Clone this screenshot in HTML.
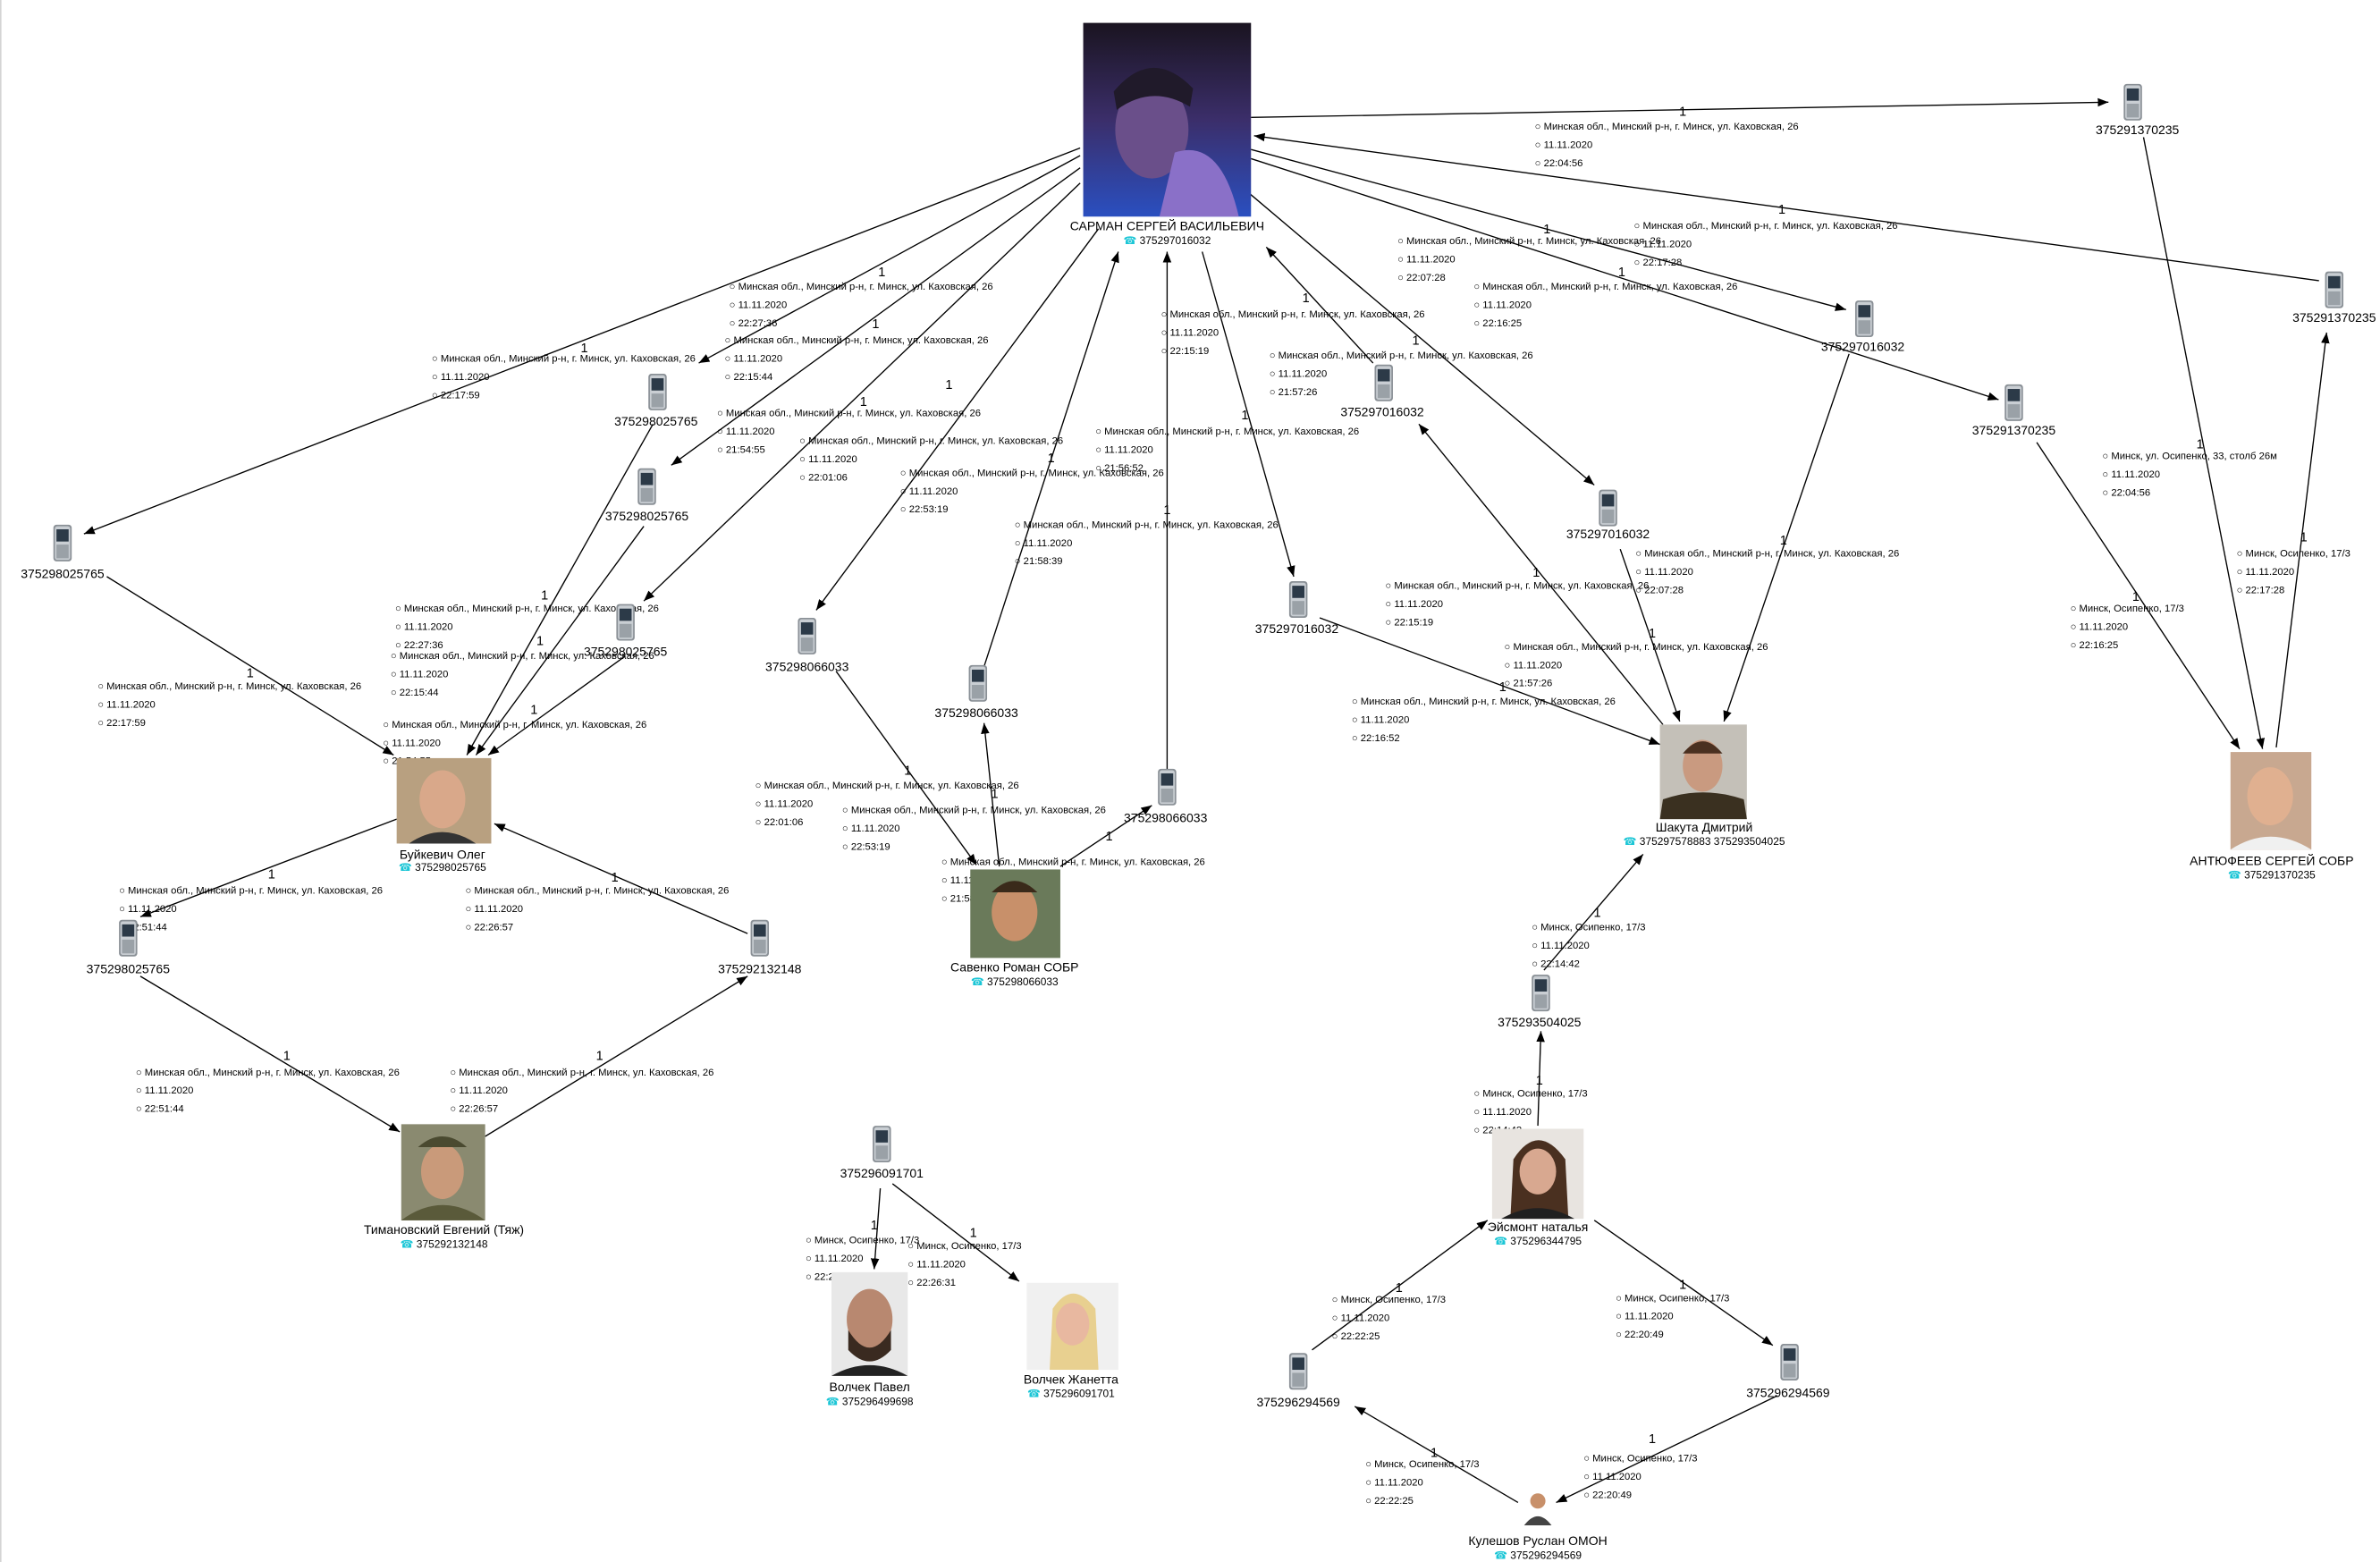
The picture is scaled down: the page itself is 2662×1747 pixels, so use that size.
<!DOCTYPE html>
<html><head><meta charset="utf-8"><style>
html,body{margin:0;padding:0;background:#fff}
svg{display:block}
text{font-family:"Liberation Sans","DejaVu Sans",sans-serif;fill:#000}
.i{font-size:6.6px}
.n{font-size:8.2px;text-anchor:middle}
.p{font-size:7px;text-anchor:middle}
.o{font-size:8.5px;text-anchor:middle}
line{stroke:#000;stroke-width:0.8}
</style></head><body>
<svg width="2662" height="1747" viewBox="0 0 1560 1024" preserveAspectRatio="none" xmlns="http://www.w3.org/2000/svg">
<defs>
<marker id="a" viewBox="0 0 10 10" refX="10" refY="5" markerWidth="7" markerHeight="7" orient="auto" markerUnits="userSpaceOnUse"><path d="M0,1 L10,5 L0,9 z" fill="#000"/></marker>
<g id="ph"><rect x="-6" y="0" width="12" height="24" rx="2" fill="#8a9096"/><rect x="-5" y="1" width="10" height="22" rx="1.5" fill="#c9ced3"/><rect x="-4" y="3" width="8" height="8" fill="#2c3a48"/><rect x="-4" y="13" width="8" height="9" fill="#9aa1a7"/></g>
<linearGradient id="sg" x1="0" y1="0" x2="0" y2="1"><stop offset="0" stop-color="#1a1420"/><stop offset="0.5" stop-color="#3b2e6a"/><stop offset="1" stop-color="#2a4fc0"/></linearGradient>
</defs>
<line x1="0.5" y1="0" x2="0.5" y2="1024" stroke="#ccc" style="stroke:#ccc"/>

<!-- edges -->
<g marker-end="url(#a)">
<line x1="820" y1="77" x2="1382" y2="67"/>
<line x1="1520" y1="184" x2="822" y2="89"/>
<line x1="820" y1="98" x2="1210" y2="203"/>
<line x1="820" y1="104" x2="1310" y2="262"/>
<line x1="900" y1="238" x2="830" y2="162"/>
<line x1="818" y1="126" x2="1045" y2="318"/>
<line x1="788" y1="165" x2="848" y2="378"/>
<line x1="765" y1="505" x2="765" y2="165"/>
<line x1="645" y1="437" x2="733" y2="165"/>
<line x1="720" y1="150" x2="535" y2="400"/>
<line x1="708" y1="120" x2="422" y2="394"/>
<line x1="708" y1="110" x2="440" y2="305"/>
<line x1="708" y1="102" x2="458" y2="238"/>
<line x1="708" y1="97" x2="55" y2="350"/>
<line x1="70" y1="378" x2="258" y2="495"/>
<line x1="428" y1="278" x2="306" y2="495"/>
<line x1="422" y1="345" x2="312" y2="495"/>
<line x1="410" y1="430" x2="320" y2="495"/>
<line x1="260" y1="537" x2="92" y2="601"/>
<line x1="490" y1="612" x2="324" y2="540"/>
<line x1="92" y1="640" x2="262" y2="742"/>
<line x1="318" y1="745" x2="490" y2="640"/>
<line x1="548" y1="440" x2="640" y2="567"/>
<line x1="655" y1="568" x2="645" y2="474"/>
<line x1="695" y1="568" x2="755" y2="528"/>
<line x1="865" y1="405" x2="1088" y2="488"/>
<line x1="1090" y1="475" x2="930" y2="278"/>
<line x1="1062" y1="360" x2="1101" y2="473"/>
<line x1="1212" y1="232" x2="1130" y2="473"/>
<line x1="1405" y1="90" x2="1483" y2="491"/>
<line x1="1492" y1="490" x2="1525" y2="218"/>
<line x1="1335" y1="290" x2="1468" y2="491"/>
<line x1="1012" y1="636" x2="1077" y2="560"/>
<line x1="1008" y1="738" x2="1010" y2="676"/>
<line x1="860" y1="885" x2="975" y2="800"/>
<line x1="1045" y1="800" x2="1162" y2="882"/>
<line x1="995" y1="985" x2="888" y2="922"/>
<line x1="1165" y1="915" x2="1020" y2="985"/>
<line x1="585" y1="776" x2="668" y2="840"/>
<line x1="577" y1="779" x2="573" y2="832"/>
</g>

<!-- edge "1" labels -->
<g class="o">
<text x="1103" y="76">1</text><text x="1168" y="140">1</text><text x="1014" y="153">1</text><text x="1063" y="181">1</text>
<text x="856" y="198">1</text><text x="928" y="226">1</text><text x="816" y="275">1</text><text x="765" y="337">1</text>
<text x="689" y="303">1</text><text x="622" y="255">1</text><text x="566" y="266">1</text><text x="574" y="215">1</text>
<text x="578" y="181">1</text><text x="383" y="231">1</text><text x="164" y="444">1</text><text x="357" y="393">1</text>
<text x="354" y="423">1</text><text x="350" y="468">1</text><text x="178" y="576">1</text><text x="403" y="578">1</text>
<text x="188" y="695">1</text><text x="393" y="695">1</text><text x="595" y="508">1</text><text x="652" y="523">1</text>
<text x="727" y="551">1</text><text x="985" y="453">1</text><text x="1007" y="378">1</text><text x="1083" y="418">1</text>
<text x="1169" y="357">1</text><text x="1442" y="294">1</text><text x="1510" y="355">1</text><text x="1400" y="394">1</text>
<text x="1047" y="601">1</text><text x="1009" y="711">1</text><text x="917" y="847">1</text><text x="1103" y="845">1</text>
<text x="940" y="955">1</text><text x="1083" y="946">1</text><text x="638" y="811">1</text><text x="573" y="806">1</text>
</g>

<!-- info labels -->
<g class="i">
<text x="1006" y="85">○ Минская обл., Минский р-н, г. Минск, ул. Каховская, 26</text><text x="1006" y="97">○ 11.11.2020</text><text x="1006" y="109">○ 22:04:56</text>
<text x="1071" y="150">○ Минская обл., Минский р-н, г. Минск, ул. Каховская, 26</text><text x="1071" y="162">○ 11.11.2020</text><text x="1071" y="174">○ 22:17:28</text>
<text x="916" y="160">○ Минская обл., Минский р-н, г. Минск, ул. Каховская, 26</text><text x="916" y="172">○ 11.11.2020</text><text x="916" y="184">○ 22:07:28</text>
<text x="966" y="190">○ Минская обл., Минский р-н, г. Минск, ул. Каховская, 26</text><text x="966" y="202">○ 11.11.2020</text><text x="966" y="214">○ 22:16:25</text>
<text x="761" y="208">○ Минская обл., Минский р-н, г. Минск, ул. Каховская, 26</text><text x="761" y="220">○ 11.11.2020</text><text x="761" y="232">○ 22:15:19</text>
<text x="832" y="235">○ Минская обл., Минский р-н, г. Минск, ул. Каховская, 26</text><text x="832" y="247">○ 11.11.2020</text><text x="832" y="259">○ 21:57:26</text>
<text x="478" y="190">○ Минская обл., Минский р-н, г. Минск, ул. Каховская, 26</text><text x="478" y="202">○ 11.11.2020</text><text x="478" y="214">○ 22:27:36</text>
<text x="475" y="225">○ Минская обл., Минский р-н, г. Минск, ул. Каховская, 26</text><text x="475" y="237">○ 11.11.2020</text><text x="475" y="249">○ 22:15:44</text>
<text x="283" y="237">○ Минская обл., Минский р-н, г. Минск, ул. Каховская, 26</text><text x="283" y="249">○ 11.11.2020</text><text x="283" y="261">○ 22:17:59</text>
<text x="470" y="273">○ Минская обл., Минский р-н, г. Минск, ул. Каховская, 26</text><text x="470" y="285">○ 11.11.2020</text><text x="470" y="297">○ 21:54:55</text>
<text x="524" y="291">○ Минская обл., Минский р-н, г. Минск, ул. Каховская, 26</text><text x="524" y="303">○ 11.11.2020</text><text x="524" y="315">○ 22:01:06</text>
<text x="718" y="285">○ Минская обл., Минский р-н, г. Минск, ул. Каховская, 26</text><text x="718" y="297">○ 11.11.2020</text><text x="718" y="309">○ 21:56:52</text>
<text x="590" y="312">○ Минская обл., Минский р-н, г. Минск, ул. Каховская, 26</text><text x="590" y="324">○ 11.11.2020</text><text x="590" y="336">○ 22:53:19</text>
<text x="665" y="346">○ Минская обл., Минский р-н, г. Минск, ул. Каховская, 26</text><text x="665" y="358">○ 11.11.2020</text><text x="665" y="370">○ 21:58:39</text>
<text x="1072" y="365">○ Минская обл., Минский р-н, г. Минск, ул. Каховская, 26</text><text x="1072" y="377">○ 11.11.2020</text><text x="1072" y="389">○ 22:07:28</text>
<text x="908" y="386">○ Минская обл., Минский р-н, г. Минск, ул. Каховская, 26</text><text x="908" y="398">○ 11.11.2020</text><text x="908" y="410">○ 22:15:19</text>
<text x="986" y="426">○ Минская обл., Минский р-н, г. Минск, ул. Каховская, 26</text><text x="986" y="438">○ 11.11.2020</text><text x="986" y="450">○ 21:57:26</text>
<text x="886" y="462">○ Минская обл., Минский р-н, г. Минск, ул. Каховская, 26</text><text x="886" y="474">○ 11.11.2020</text><text x="886" y="486">○ 22:16:52</text>
<text x="259" y="401">○ Минская обл., Минский р-н, г. Минск, ул. Каховская, 26</text><text x="259" y="413">○ 11.11.2020</text><text x="259" y="425">○ 22:27:36</text>
<text x="256" y="432">○ Минская обл., Минский р-н, г. Минск, ул. Каховская, 26</text><text x="256" y="444">○ 11.11.2020</text><text x="256" y="456">○ 22:15:44</text>
<text x="64" y="452">○ Минская обл., Минский р-н, г. Минск, ул. Каховская, 26</text><text x="64" y="464">○ 11.11.2020</text><text x="64" y="476">○ 22:17:59</text>
<text x="251" y="477">○ Минская обл., Минский р-н, г. Минск, ул. Каховская, 26</text><text x="251" y="489">○ 11.11.2020</text><text x="251" y="501">○ 21:54:55</text>
<text x="78" y="586">○ Минская обл., Минский р-н, г. Минск, ул. Каховская, 26</text><text x="78" y="598">○ 11.11.2020</text><text x="78" y="610">○ 22:51:44</text>
<text x="305" y="586">○ Минская обл., Минский р-н, г. Минск, ул. Каховская, 26</text><text x="305" y="598">○ 11.11.2020</text><text x="305" y="610">○ 22:26:57</text>
<text x="89" y="705">○ Минская обл., Минский р-н, г. Минск, ул. Каховская, 26</text><text x="89" y="717">○ 11.11.2020</text><text x="89" y="729">○ 22:51:44</text>
<text x="295" y="705">○ Минская обл., Минский р-н, г. Минск, ул. Каховская, 26</text><text x="295" y="717">○ 11.11.2020</text><text x="295" y="729">○ 22:26:57</text>
<text x="495" y="517">○ Минская обл., Минский р-н, г. Минск, ул. Каховская, 26</text><text x="495" y="529">○ 11.11.2020</text><text x="495" y="541">○ 22:01:06</text>
<text x="552" y="533">○ Минская обл., Минский р-н, г. Минск, ул. Каховская, 26</text><text x="552" y="545">○ 11.11.2020</text><text x="552" y="557">○ 22:53:19</text>
<text x="617" y="567">○ Минская обл., Минский р-н, г. Минск, ул. Каховская, 26</text><text x="617" y="579">○ 11.11.2020</text><text x="617" y="591">○ 21:58:39</text>
<text x="1378" y="301">○ Минск, ул. Осипенко, 33, столб 26м</text><text x="1378" y="313">○ 11.11.2020</text><text x="1378" y="325">○ 22:04:56</text>
<text x="1466" y="365">○ Минск, Осипенко, 17/3</text><text x="1466" y="377">○ 11.11.2020</text><text x="1466" y="389">○ 22:17:28</text>
<text x="1357" y="401">○ Минск, Осипенко, 17/3</text><text x="1357" y="413">○ 11.11.2020</text><text x="1357" y="425">○ 22:16:25</text>
<text x="1004" y="610">○ Минск, Осипенко, 17/3</text><text x="1004" y="622">○ 11.11.2020</text><text x="1004" y="634">○ 22:14:42</text>
<text x="966" y="719">○ Минск, Осипенко, 17/3</text><text x="966" y="731">○ 11.11.2020</text><text x="966" y="743">○ 22:14:42</text>
<text x="873" y="854">○ Минск, Осипенко, 17/3</text><text x="873" y="866">○ 11.11.2020</text><text x="873" y="878">○ 22:22:25</text>
<text x="1059" y="853">○ Минск, Осипенко, 17/3</text><text x="1059" y="865">○ 11.11.2020</text><text x="1059" y="877">○ 22:20:49</text>
<text x="895" y="962">○ Минск, Осипенко, 17/3</text><text x="895" y="974">○ 11.11.2020</text><text x="895" y="986">○ 22:22:25</text>
<text x="1038" y="958">○ Минск, Осипенко, 17/3</text><text x="1038" y="970">○ 11.11.2020</text><text x="1038" y="982">○ 22:20:49</text>
<text x="595" y="819">○ Минск, Осипенко, 17/3</text><text x="595" y="831">○ 11.11.2020</text><text x="595" y="843">○ 22:26:31</text>
<text x="528" y="815">○ Минск, Осипенко, 17/3</text><text x="528" y="827">○ 11.11.2020</text><text x="528" y="839">○ 22:26:31</text>
</g>

<!-- phones -->
<use href="#ph" x="1398" y="55"/><text class="n" x="1401" y="88">375291370235</text>
<use href="#ph" x="1530" y="178"/><text class="n" x="1530" y="211">375291370235</text>
<use href="#ph" x="1222" y="197"/><text class="n" x="1221" y="230">375297016032</text>
<use href="#ph" x="1320" y="252"/><text class="n" x="1320" y="285">375291370235</text>
<use href="#ph" x="907" y="239"/><text class="n" x="906" y="273">375297016032</text>
<use href="#ph" x="1054" y="321"/><text class="n" x="1054" y="353">375297016032</text>
<use href="#ph" x="851" y="381"/><text class="n" x="850" y="415">375297016032</text>
<use href="#ph" x="431" y="245"/><text class="n" x="430" y="279">375298025765</text>
<use href="#ph" x="424" y="307"/><text class="n" x="424" y="341">375298025765</text>
<use href="#ph" x="41" y="344"/><text class="n" x="41" y="379">375298025765</text>
<use href="#ph" x="410" y="396"/><text class="n" x="410" y="430">375298025765</text>
<use href="#ph" x="529" y="405"/><text class="n" x="529" y="440">375298066033</text>
<use href="#ph" x="641" y="436"/><text class="n" x="640" y="470">375298066033</text>
<use href="#ph" x="765" y="504"/><text class="n" x="764" y="539">375298066033</text>
<use href="#ph" x="84" y="603"/><text class="n" x="84" y="638">375298025765</text>
<use href="#ph" x="498" y="603"/><text class="n" x="498" y="638">375292132148</text>
<use href="#ph" x="1010" y="639"/><text class="n" x="1009" y="673">375293504025</text>
<use href="#ph" x="578" y="738"/><text class="n" x="578" y="772">375296091701</text>
<use href="#ph" x="851" y="887"/><text class="n" x="851" y="922">375296294569</text>
<use href="#ph" x="1173" y="881"/><text class="n" x="1172" y="916">375296294569</text>

<!-- persons -->
<g>
<rect x="710" y="15" width="110" height="127" fill="url(#sg)"/>
<ellipse cx="755" cy="85" rx="24" ry="32" fill="#6a4f8a"/><path d="M730,60 Q755,30 782,58 L780,70 Q755,55 732,72 z" fill="#201a2a"/>
<path d="M770,100 Q800,90 812,142 L760,142 z" fill="#8a70c8"/>
</g>
<text class="n" x="765" y="151">САРМАН СЕРГЕЙ ВАСИЛЬЕВИЧ</text>
<text class="p" x="765" y="160"><tspan fill="#1cc6d6" style="fill:#1cc6d6">☎</tspan> 375297016032</text>

<g><rect x="260" y="497" width="62" height="56" fill="#b8a080"/><ellipse cx="290" cy="524" rx="15" ry="19" fill="#d9a88a"/><path d="M268,553 Q290,538 312,553z" fill="#333"/></g>
<text class="n" x="290" y="563">Буйкевич Олег</text><text class="p" x="290" y="571"><tspan style="fill:#1cc6d6">☎</tspan> 375298025765</text>

<g><rect x="263" y="737" width="55" height="63" fill="#8a8a70"/><ellipse cx="290" cy="768" rx="14" ry="18" fill="#c99a7a"/><path d="M263,800 Q290,780 318,800z" fill="#5a5a3a"/><path d="M274,752 Q290,738 306,752z" fill="#4a4a30"/></g>
<text class="n" x="291" y="809">Тимановский Евгений (Тяж)</text><text class="p" x="291" y="818"><tspan style="fill:#1cc6d6">☎</tspan> 375292132148</text>

<g><rect x="636" y="570" width="59" height="58" fill="#6a7a5a"/><ellipse cx="665" cy="598" rx="15" ry="19" fill="#c8906a"/><path d="M650,585 Q665,570 680,585z" fill="#3a2a1a"/></g>
<text class="n" x="665" y="637">Савенко Роман СОБР</text><text class="p" x="665" y="646"><tspan style="fill:#1cc6d6">☎</tspan> 375298066033</text>

<g><rect x="1088" y="475" width="57" height="62" fill="#c4c0b8"/><ellipse cx="1116" cy="502" rx="13" ry="17" fill="#c99a80"/><path d="M1103,494 Q1116,478 1129,494z" fill="#4a3020"/><path d="M1088,537 L1090,524 Q1116,515 1143,524 L1145,537z" fill="#3a3020"/></g>
<text class="n" x="1117" y="545">Шакута Дмитрий</text><text class="p" x="1117" y="554"><tspan style="fill:#1cc6d6">☎</tspan> 375297578883 375293504025</text>

<g><rect x="1462" y="493" width="53" height="64" fill="#c8a890"/><ellipse cx="1488" cy="522" rx="15" ry="19" fill="#e0b090"/><path d="M1462,557 Q1488,540 1515,557z" fill="#f0f0f0"/></g>
<text class="n" x="1489" y="567">АНТЮФЕЕВ СЕРГЕЙ СОБР</text><text class="p" x="1489" y="576"><tspan style="fill:#1cc6d6">☎</tspan> 375291370235</text>

<g><rect x="978" y="740" width="60" height="59" fill="#e8e4e0"/><path d="M990,799 L992,760 Q1008,735 1026,760 L1028,799z" fill="#4a3020"/><ellipse cx="1008" cy="768" rx="12" ry="15" fill="#d8a890"/><path d="M984,799 Q1008,785 1032,799z" fill="#202020"/></g>
<text class="n" x="1008" y="807">Эйсмонт наталья</text><text class="p" x="1008" y="816"><tspan style="fill:#1cc6d6">☎</tspan> 375296344795</text>

<g><rect x="545" y="834" width="50" height="68" fill="#e8e8e8"/><ellipse cx="570" cy="865" rx="15" ry="20" fill="#b88870"/><path d="M556,872 Q570,895 584,872 L584,885 Q570,900 556,885z" fill="#3a2a20"/><path d="M545,902 Q570,888 595,902z" fill="#222"/></g>
<text class="n" x="570" y="912">Волчек Павел</text><text class="p" x="570" y="921"><tspan style="fill:#1cc6d6">☎</tspan> 375296499698</text>

<g><rect x="673" y="841" width="60" height="57" fill="#f0f0f0"/><path d="M688,898 L690,858 Q703,838 718,858 L720,898z" fill="#e8d090"/><ellipse cx="703" cy="868" rx="11" ry="14" fill="#e8b8a0"/></g>
<text class="n" x="702" y="907">Волчек Жанетта</text><text class="p" x="702" y="916"><tspan style="fill:#1cc6d6">☎</tspan> 375296091701</text>

<g><circle cx="1008" cy="984" r="5" fill="#c8906a"/><path d="M999,1000 Q1008,988 1017,1000z" fill="#444"/></g>
<text class="n" x="1008" y="1013">Кулешов Руслан ОМОН</text><text class="p" x="1008" y="1022"><tspan style="fill:#1cc6d6">☎</tspan> 375296294569</text>
</svg>
</body></html>
